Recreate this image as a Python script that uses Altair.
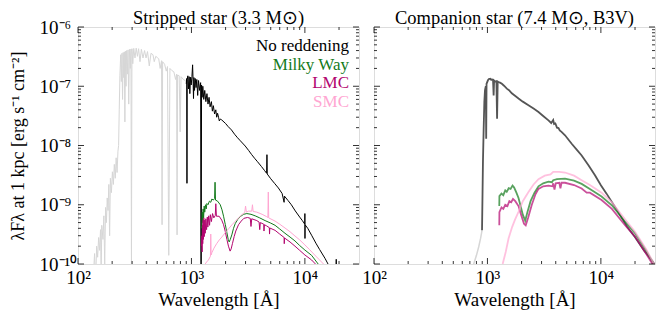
import altair as alt
import pandas as pd

FONT = "Liberation Serif, Times New Roman, serif"
W, H = 281, 237

# ---------------- data: wavelength [Å], lambda*F_lambda [erg s^-1 cm^-2] ----------------
# Stripped star, full model (light grey)
strip_full_wl = [120, 134, 137, 140, 143, 146, 149, 152, 155, 158, 160, 162, 166, 169, 172, 175, 178,
                 181, 184, 187, 190, 193, 197, 201, 205, 209, 213, 217, 221, 225, 228, 231, 234, 238,
                 241, 244, 247, 250, 253, 256, 259, 262, 265, 268, 272, 276, 280, 284, 289, 293, 296,
                 299, 304, 310, 318, 326, 334, 342, 352, 362, 374, 386, 398, 410, 425, 440, 458, 470,
                 485, 500, 515, 530, 545, 551, 557, 580, 600, 615, 631, 646, 670, 700, 725, 740, 747,
                 755, 780, 795, 810, 850, 880, 912]
strip_full_fx = [4e-11, 1.0e-10, 7e-11, 1.5e-10, 5e-11, 2.0e-10, 1.3e-10, 2.8e-10, 1.7e-10, 3.8e-10,
                 6e-11, 4.5e-10, 2.6e-10, 6.5e-10, 1.0e-10, 9.0e-10, 5.0e-10, 1.3e-9, 8.0e-10, 2.2e-9,
                 3.0e-10, 2.8e-9, 1.6e-9, 3.6e-9, 2.2e-9, 4.8e-9, 2.8e-9, 6.2e-9, 3.5e-9, 8.0e-9,
                 1.0e-8, 4.0e-8, 1.5e-7, 3.4e-7, 1.2e-7, 3.6e-7, 6e-8, 3.7e-7, 1.4e-7, 3.8e-7, 2.5e-8,
                 3.9e-7, 1.0e-7, 4.0e-7, 1.6e-7, 4.1e-7, 5e-8, 4.2e-7, 2.0e-7, 4.25e-7, 8e-11, 4.3e-7,
                 2.4e-7, 4.35e-7, 3.0e-7, 4.4e-7, 3.2e-7, 4.3e-7, 2.6e-7, 4.2e-7, 3.0e-7, 4.0e-7,
                 3.0e-7, 3.85e-7, 2.2e-7, 3.6e-7, 3.4e-7, 2.6e-7, 3.2e-7, 3.05e-7, 2.9e-7, 2.0e-7,
                 2.7e-7, 4.6e-10, 2.6e-7, 2.35e-7, 1.8e-7, 2.15e-7, 1.4e-10, 2.0e-7, 1.85e-7, 1.75e-7,
                 1.3e-7, 1.6e-7, 3.1e-10, 1.55e-7, 1.5e-7, 1.7e-8, 1.45e-7, 1.3e-7, 1.25e-7, 1.17e-7]

# Stripped star, no reddening (black)
strip_wl = [900, 908, 913, 918, 930, 942, 955, 968, 982, 995, 1010, 1024, 1036, 1043, 1052, 1065, 1080,
            1098, 1115, 1135, 1155, 1180, 1205, 1213, 1220, 1228, 1242, 1260, 1285, 1310, 1340, 1370,
            1400, 1430, 1460, 1500, 1530, 1560, 1600, 1640, 1670, 1700, 1734, 1760, 1800, 1850, 2000,
            2100, 2254, 2400, 2550, 2700, 2979, 3200, 3400, 3600, 3800, 4140, 4400, 4600, 4630, 4660,
            5000, 5400, 5838, 6300, 6560, 6600, 7100, 7600, 8236, 9000, 9500, 9980, 10000, 10020,
            10040, 10600, 11460, 12500, 13500, 15030, 16000, 17250, 18800, 18900, 19000, 20000]
strip_fx = [1.1e-7, 1.35e-7, 2.3e-9, 1.3e-7, 1.5e-7, 9.0e-8, 1.45e-7, 7.5e-8, 1.42e-7, 1.05e-7,
            1.45e-7, 2.3e-7, 1.1e-7, 6.2e-8, 1.4e-7, 8.5e-8, 1.35e-7, 9.5e-8, 1.3e-7, 7.0e-8, 1.25e-7,
            8.5e-8, 1.15e-7, 5e-11, 5e-11, 1.05e-7, 6.5e-8, 1.0e-7, 6.0e-8, 8.5e-8, 5.5e-8, 7.5e-8,
            5.0e-8, 6.5e-8, 4.5e-8, 5.5e-8, 3.8e-8, 4.7e-8, 3.4e-8, 4.0e-8, 3.0e-8, 3.5e-8, 3.0e-8,
            2.6e-8, 2.8e-8, 2.7e-8, 2.35e-8, 2.1e-8, 1.83e-8, 1.55e-8, 1.35e-8, 1.2e-8, 9.8e-9, 8.2e-9,
            7.0e-9, 6.1e-9, 5.4e-9, 4.42e-9, 3.8e-9, 3.4e-9, 7.0e-9, 3.3e-9, 2.75e-9, 2.3e-9, 1.92e-9,
            1.55e-9, 1.1e-9, 1.4e-9, 1.18e-9, 1.0e-9, 7.85e-10, 6.2e-10, 5.4e-10, 4.7e-10, 7.1e-10,
            2.7e-10, 4.6e-10, 4.0e-10, 3.06e-10, 2.25e-10, 1.75e-10, 1.25e-10, 1.0e-10, 7.85e-11,
            5.5e-11, 1.2e-10, 5.5e-11, 4.5e-11]

# Stripped star, Milky Way reddening (green)
strip_mw_wl = [1225, 1236, 1245, 1255, 1268, 1280, 1295, 1310, 1330, 1350, 1368, 1400, 1440, 1480, 1514,
               1560, 1600, 1615, 1630, 1700, 1795, 1860, 1919, 1990, 2053, 2110, 2153, 2200, 2270, 2350,
               2432, 2550, 2692, 2880, 3077, 3350, 3646, 4000, 4460, 5000, 5460, 6000, 6680, 7400, 8180,
               9000, 10000, 11460, 13100, 14600]
strip_mw_fx = [4.0e-10, 4.5e-10, 7.5e-10, 5.0e-10, 8.5e-10, 6.0e-10, 9.5e-10, 7.5e-10, 1.0e-9, 8.5e-10,
               1.05e-9, 1.0e-9, 1.15e-9, 1.1e-9, 1.25e-9, 1.2e-9, 1.27e-9, 2.4e-9, 1.2e-9, 1.15e-9,
               1.0e-9, 8.2e-10, 6.4e-10, 4.6e-10, 3.4e-10, 2.6e-10, 2.35e-10, 2.6e-10, 3.1e-10, 4.0e-10,
               4.8e-10, 5.6e-10, 6.3e-10, 6.9e-10, 7.1e-10, 6.9e-10, 6.5e-10, 6.0e-10, 5.4e-10, 4.9e-10,
               4.5e-10, 3.9e-10, 3.3e-10, 2.85e-10, 2.45e-10, 2.05e-10, 1.72e-10, 1.4e-10, 1.0e-10, 7.3e-11]

# Stripped star, LMC reddening (magenta)
strip_lmc_wl = [1225, 1236, 1242, 1250, 1258, 1266, 1275, 1285, 1298, 1310, 1323, 1340, 1360, 1380, 1395,
                1420, 1445, 1468, 1500, 1535, 1575, 1622, 1640, 1660, 1755, 1850, 1919, 1990, 2053, 2120,
                2192, 2240, 2297, 2380, 2460, 2600, 2748, 2900, 3124, 3300, 3350, 3400, 3770, 3950, 4000,
                4050, 4340, 4360, 4400, 4600, 4860, 4880, 4910, 5460, 6000, 6560, 6580, 6620, 7400, 8180,
                9000, 10000, 11460, 12650, 14000]
strip_lmc_fx = [2.0e-10, 3.0e-10, 1.6e-10, 4.5e-10, 2.2e-10, 5.5e-10, 2.6e-10, 6.0e-10, 2.9e-10, 5.5e-10,
                3.3e-10, 5.8e-10, 3.8e-10, 6.2e-10, 4.2e-10, 6.5e-10, 4.5e-10, 6.8e-10, 5.2e-10, 7.1e-10,
                6.0e-10, 6.6e-10, 1.04e-9, 6.4e-10, 6.4e-10, 5.5e-10, 4.6e-10, 3.5e-10, 2.6e-10, 2.0e-10,
                1.65e-10, 1.8e-10, 2.2e-10, 2.9e-10, 3.6e-10, 4.6e-10, 5.3e-10, 5.9e-10, 6.1e-10, 5.9e-10,
                4.3e-10, 5.8e-10, 5.4e-10, 5.1e-10, 3.8e-10, 5.0e-10, 4.7e-10, 3.6e-10, 4.6e-10, 4.4e-10,
                4.1e-10, 3.2e-10, 4.05e-10, 3.7e-10, 3.2e-10, 2.8e-10, 2.2e-10, 2.75e-10, 2.35e-10,
                2.0e-10, 1.7e-10, 1.42e-10, 1.17e-10, 9.6e-11, 7e-11]

# Stripped star, SMC reddening (pink)
strip_smc_wl = [1300, 1323, 1360, 1413, 1470, 1480, 1492, 1514, 1580, 1667, 1760, 1854, 1990, 2130, 2280,
                2432, 2600, 2780, 2950, 3000, 3050, 3178, 3400, 3450, 3500, 3770, 4200, 4600, 4720, 4760,
                4800, 5460, 6000, 6680, 7400, 8180, 9000, 10000, 11000, 12200, 13300, 14600, 16000]
strip_smc_fx = [7e-11, 1.0e-10, 1.08e-10, 1.17e-10, 1.35e-10, 3.2e-10, 1.42e-10, 1.55e-10, 1.85e-10,
                2.2e-10, 2.55e-10, 2.85e-10, 3.4e-10, 3.95e-10, 4.6e-10, 5.25e-10, 6.0e-10, 6.8e-10,
                7.4e-10, 9.5e-10, 7.5e-10, 7.8e-10, 7.8e-10, 1.0e-9, 7.7e-10, 7.5e-10, 6.9e-10, 6.3e-10,
                6.1e-10, 1.64e-9, 6.0e-10, 5.3e-10, 4.7e-10, 4.05e-10, 3.5e-10, 2.97e-10, 2.55e-10,
                2.1e-10, 1.75e-10, 1.42e-10, 1.2e-10, 1.0e-10, 8e-11]

# Companion star, full model below the Lyman limit (light grey)
comp_full_wl = [730, 757, 800, 837, 870, 896]
comp_full_fx = [7e-11, 1.0e-10, 1.4e-10, 1.94e-10, 2.7e-10, 3.7e-10]

# Companion star, no reddening (dark grey)
comp_wl = [896, 905, 913, 926, 939, 951, 957, 968, 975, 982, 1010, 1030, 1059, 1080, 1100, 1120, 1134,
           1145, 1170, 1200, 1216, 1232, 1253, 1290, 1341, 1400, 1482, 1550, 1640, 1750, 1879, 2050,
           2300, 2550, 2818, 3100, 3451, 3650, 3700, 3800, 3870, 3970, 4101, 4230, 4340, 4500, 4830,
           5530, 6200, 6770, 7800, 8870, 10000, 11220, 14220, 17000, 19950, 24000, 28840, 31000]
comp_fx = [3.7e-10, 1.5e-9, 5.3e-9, 1.9e-8, 5.4e-8, 8.5e-8, 9.1e-8, 1.0e-7, 1.3e-8, 1.1e-7, 1.26e-7,
           1.32e-7, 1.34e-7, 1.28e-7, 1.3e-7, 1.28e-7, 7.0e-8, 1.25e-7, 1.2e-7, 1.22e-7, 2.83e-8,
           1.2e-7, 1.18e-7, 1.15e-7, 1.1e-7, 1.02e-7, 9.1e-8, 8.6e-8, 7.6e-8, 6.9e-8, 6.2e-8, 5.5e-8,
           4.8e-8, 4.2e-8, 3.67e-8, 3.15e-8, 2.66e-8, 2.4e-8, 2.5e-8, 2.7e-8, 2.3e-8, 2.35e-8, 2.0e-8,
           1.97e-8, 1.8e-8, 1.7e-8, 1.49e-8, 1.07e-8, 8.3e-9, 6.8e-9, 4.6e-9, 3.14e-9, 2.13e-9,
           1.54e-9, 7.55e-10, 4.3e-10, 2.86e-10, 1.7e-10, 1.08e-10, 8.5e-11]

# Companion star, Milky Way reddening
comp_mw_wl = [1272, 1275, 1330, 1380, 1436, 1480, 1540, 1600, 1664, 1720, 1800, 1879, 1960, 2050, 2153,
              2250, 2400, 2600, 2818, 3100, 3450, 3700, 3800, 4100, 4830, 5800, 6770, 8000, 10140, 12500,
              16200, 20000, 25000, 29000, 31000]
comp_mw_fx = [9.5e-10, 1.4e-9, 1.55e-9, 1.45e-9, 1.75e-9, 1.65e-9, 1.9e-9, 1.85e-9, 2.1e-9, 1.95e-9,
              1.6e-9, 1.3e-9, 9.5e-10, 6.8e-10, 5.4e-10, 7.5e-10, 1.15e-9, 1.6e-9, 2.05e-9, 2.3e-9,
              2.45e-9, 2.4e-9, 2.6e-9, 2.7e-9, 2.75e-9, 2.55e-9, 2.25e-9, 1.85e-9, 1.38e-9, 9.8e-10,
              5.3e-10, 3.3e-10, 1.7e-10, 1.02e-10, 8.5e-11]

# Companion star, LMC reddening
comp_lmc_wl = [1272, 1275, 1330, 1380, 1436, 1500, 1560, 1620, 1680, 1760, 1879, 1980, 2100, 2175, 2280,
               2461, 2650, 2818, 3100, 3450, 3750, 3800, 3900, 4000, 4300, 4400, 4500, 4830, 5800, 6770,
               7500, 8000, 10140, 12500, 16200, 20000, 25000, 29000, 31000]
comp_lmc_fx = [4.5e-10, 7.5e-10, 9.0e-10, 8.5e-10, 1.0e-9, 9.5e-10, 1.15e-9, 1.1e-9, 1.25e-9, 1.15e-9,
               9.5e-10, 6.8e-10, 4.8e-10, 4.5e-10, 6.0e-10, 1.0e-9, 1.5e-9, 1.85e-9, 2.05e-9, 2.1e-9,
               2.05e-9, 2.3e-9, 1.8e-9, 2.3e-9, 2.35e-9, 1.9e-9, 2.35e-9, 2.35e-9, 2.15e-9, 1.88e-9,
               1.6e-9, 1.6e-9, 1.2e-9, 8.5e-10, 4.6e-10, 2.9e-10, 1.5e-10, 9.5e-11, 8e-11]

# Companion star, SMC reddening
comp_smc_wl = [1362, 1450, 1535, 1650, 1750, 1879, 2050, 2301, 2550, 2818, 3200, 3600, 3800, 4300, 4830,
               5800, 6770, 8000, 10140, 12500, 16200, 20000, 25000, 29000, 31000]
comp_smc_fx = [1.0e-10, 1.6e-10, 2.7e-10, 4.2e-10, 5.6e-10, 7.6e-10, 1.15e-9, 1.64e-9, 2.2e-9, 2.7e-9,
               3.1e-9, 3.25e-9, 3.6e-9, 3.6e-9, 3.5e-9, 3.1e-9, 2.6e-9, 2.15e-9, 1.6e-9, 1.1e-9, 5.8e-10,
               3.5e-10, 1.8e-10, 1.05e-10, 9e-11]

panel_titles = ["Stripped star (3.3 M⊙)", "Companion star (7.4 M⊙, B3V)"]
legend_labels = ["No reddening", "Milky Way", "LMC", "SMC"]
legend_colors = ["#000000", "#137a1b", "#b3066f", "#ffa6d2"]

x_major = [100, 1000, 10000]
x_minor = [200, 300, 400, 500, 600, 700, 800, 900, 2000, 3000, 4000, 5000, 6000, 7000, 8000, 9000, 20000]
y_major = [1e-10, 1e-9, 1e-8, 1e-7, 1e-6]
y_minor = [2e-10, 3e-10, 4e-10, 5e-10, 6e-10, 7e-10, 8e-10, 9e-10,
           2e-9, 3e-9, 4e-9, 5e-9, 6e-9, 7e-9, 8e-9, 9e-9,
           2e-8, 3e-8, 4e-8, 5e-8, 6e-8, 7e-8, 8e-8, 9e-8,
           2e-7, 3e-7, 4e-7, 5e-7, 6e-7, 7e-7, 8e-7, 9e-7]

# ---------------- chart ----------------
X_SCALE = alt.Scale(type="log", domain=[100, 30000], nice=False)
Y_SCALE = alt.Scale(type="log", domain=[1e-10, 1e-6], nice=False)

xlab = ("datum.value < 300 ? '10²' : datum.value < 3000 ? '10³' : '10⁴'")
ylab = ("datum.value < 3e-10 ? '10⁻¹⁰' : datum.value < 3e-9 ? '10⁻⁹' : "
        "datum.value < 3e-8 ? '10⁻⁸' : datum.value < 3e-7 ? '10⁻⁷' : '10⁻⁶'")

x_axis = alt.Axis(values=x_major, labelExpr=xlab, labelFlush=False, labelOverlap=False,
                  labelFontSize=19, labelPadding=4, labelColor="black", ticks=False, tickSize=0,
                  domain=False, grid=False, title="Wavelength [Å]", titleFontSize=19,
                  titleFontWeight="normal", titlePadding=3, titleColor="black")
y_axis = alt.Axis(values=y_major, labelExpr=ylab, labelFlush=False, labelOverlap=False,
                  labelFontSize=19, labelAlign="left", labelBaseline="middle", labelPadding=39,
                  labelColor="black", ticks=False, tickSize=0, domain=False, grid=False,
                  title="λFλ at 1 kpc [erg s⁻¹ cm⁻²]", titleFontSize=18, titleFontWeight="normal",
                  titleColor="black", titleX=-60, titleY=H / 2, titleAngle=-90,
                  titleAlign="center", titleBaseline="middle")


def frame(wl, fx):
    return pd.DataFrame({"wl": wl, "flux": fx})


def panel(series, title, show_y, legend):
    ex = alt.X("wl:Q", scale=X_SCALE, axis=x_axis)
    ey = alt.Y("flux:Q", scale=Y_SCALE, axis=y_axis if show_y else None)
    layers = []
    for wl, fx, color, op, sw in series:
        layers.append(alt.Chart(frame(wl, fx)).mark_line(
            color=color, opacity=op, strokeWidth=sw, clip=True, interpolate="linear"
        ).encode(x=ex, y=ey))
    # inward ticks on all four sides
    for vals, ln in ((x_major, 6), (x_minor, 3)):
        d = pd.DataFrame({"wl": vals})
        layers.append(alt.Chart(d).mark_rule(color="black", strokeWidth=0.8).encode(
            x=ex, y=alt.value(H), y2=alt.value(H - ln)))
        layers.append(alt.Chart(d).mark_rule(color="black", strokeWidth=0.8).encode(
            x=ex, y=alt.value(0), y2=alt.value(ln)))
    for vals, ln in ((y_major, 6), (y_minor, 3)):
        d = pd.DataFrame({"flux": vals})
        layers.append(alt.Chart(d).mark_rule(color="black", strokeWidth=0.8).encode(
            y=ey, x=alt.value(0), x2=alt.value(ln)))
        layers.append(alt.Chart(d).mark_rule(color="black", strokeWidth=0.8).encode(
            y=ey, x=alt.value(W), x2=alt.value(W - ln)))
    # panel title (as text above the frame)
    layers.append(alt.Chart(pd.DataFrame({"t": [title]})).mark_text(
        align="center", baseline="alphabetic", font=FONT, fontSize=18.5, color="black"
    ).encode(x=alt.value(W / 2), y=alt.value(-3), text="t:N"))
    if legend:
        for i, (lab, col) in enumerate(zip(legend_labels, legend_colors)):
            layers.append(alt.Chart(pd.DataFrame({"t": [lab]})).mark_text(
                align="right", baseline="middle", font=FONT, fontSize=17, color=col
            ).encode(x=alt.value(W - 10), y=alt.value(19 + 18.7 * i), text="t:N"))
    return alt.layer(*layers).properties(width=W, height=H)


left = panel([
    (strip_full_wl, strip_full_fx, "#d6d6d6", 1.0, 1.0),
    (strip_wl, strip_fx, "#000000", 1.0, 1.0),
    (strip_mw_wl, strip_mw_fx, legend_colors[1], 1.0, 1.0),
    (strip_lmc_wl, strip_lmc_fx, legend_colors[2], 1.0, 1.0),
    (strip_smc_wl, strip_smc_fx, legend_colors[3], 1.0, 1.0),
], panel_titles[0], True, True)

right = panel([
    (comp_full_wl, comp_full_fx, "#d6d6d6", 1.0, 1.5),
    (comp_wl, comp_fx, "#555555", 1.0, 1.8),
    (comp_mw_wl, comp_mw_fx, legend_colors[1], 0.7, 1.8),
    (comp_lmc_wl, comp_lmc_fx, legend_colors[2], 0.7, 1.8),
    (comp_smc_wl, comp_smc_fx, legend_colors[3], 0.7, 1.8),
], panel_titles[1], False, False)

chart = alt.hconcat(left, right, spacing=15, bounds="flush").properties(
    padding={"left": 0, "top": 0, "right": 0, "bottom": 0}
).configure_view(
    stroke="black", strokeWidth=1
).configure(font=FONT, background="white")

chart.save("out.html", embed_options={"renderer": "svg", "actions": False})
